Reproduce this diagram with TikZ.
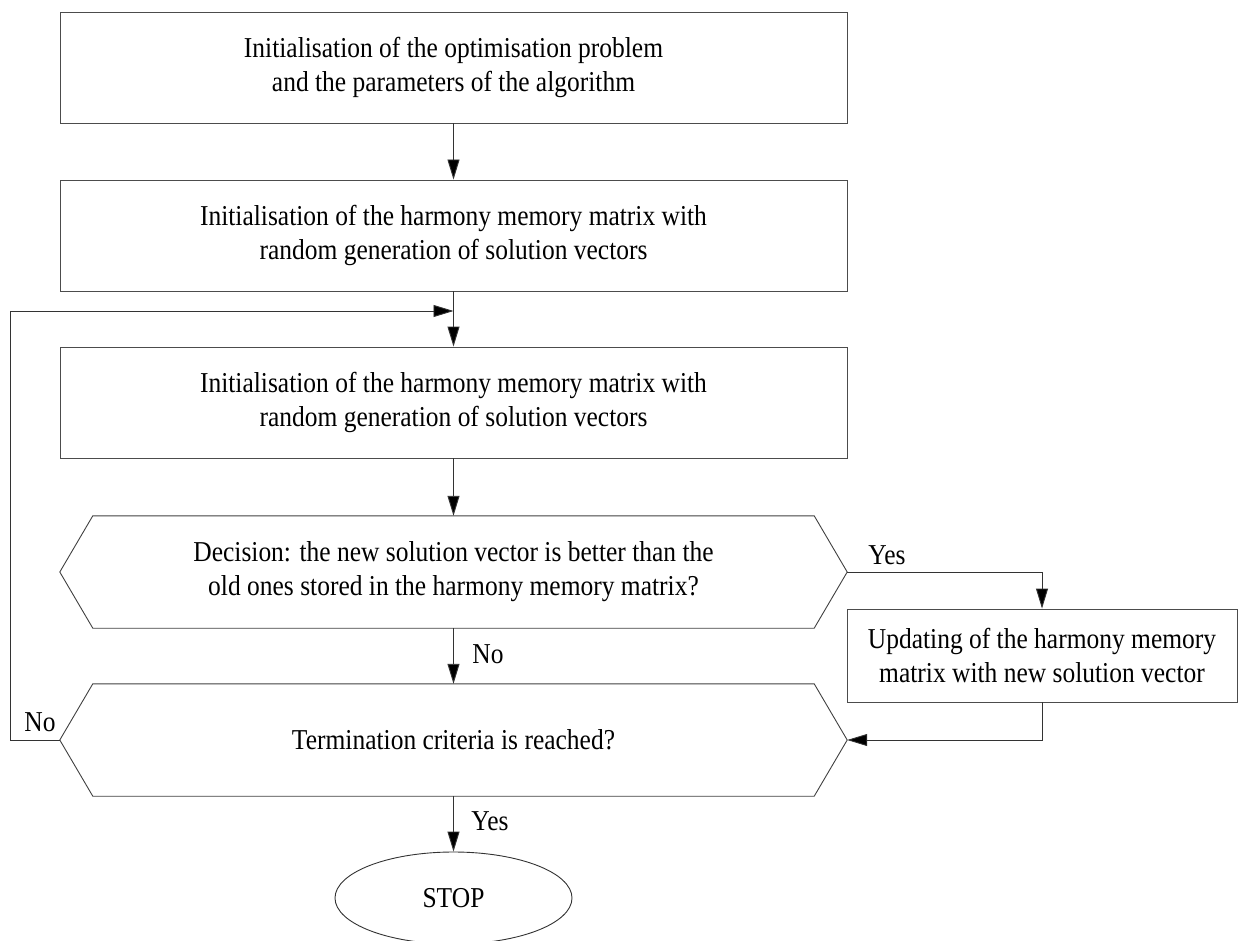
\documentclass[tikz,border=0pt]{standalone}
\usepackage{fontspec}
\setmainfont[FakeStretch=0.885]{Liberation Serif}
\usetikzlibrary{arrows.meta,calc,shapes.geometric}
\begin{document}
\begin{tikzpicture}[x=1pt,y=-1pt,
  every node/.style={font=\fontsize{28.8}{34}\selectfont},
  box/.style={draw=black!70,line width=0.9pt,minimum width=787pt,minimum height=111pt,inner sep=0pt,align=center},
  hexbox/.style={minimum width=787pt,minimum height=112pt,inner sep=0pt,align=center},
  hexline/.style={draw=black!75,line width=0.9pt},
  arr/.style={draw=black!80,line width=0.9pt,-{Triangle[length=20pt,width=12pt,fill=black]}},
  lbl/.style={inner sep=0pt}]
\useasboundingbox (0,0) rectangle (1238,941);
\clip (0,0) rectangle (1238,941);
\node[box] (b1) at (453.5,67.5) {Initialisation of the optimisation problem\\and the parameters of the algorithm};
\node[box] (b2) at (453.5,235.5) {Initialisation of the harmony memory matrix with\\random generation of solution vectors};
\node[box] (b3) at (453.5,402.5) {Initialisation of the harmony memory matrix with\\random generation of solution vectors};
\node[hexbox] (d1) at (453.5,572) {Decision: the new solution vector is better than the\\old ones stored in the harmony memory matrix?};
\node[hexbox] (d2) at (453.5,740) {Termination criteria is reached?};
\draw[hexline] (d1.west) -- ($(d1.north west)+(33,0)$) -- ($(d1.north east)+(-33,0)$) -- (d1.east) -- ($(d1.south east)+(-33,0)$) -- ($(d1.south west)+(33,0)$) -- cycle;
\draw[hexline] (d2.west) -- ($(d2.north west)+(33,0)$) -- ($(d2.north east)+(-33,0)$) -- (d2.east) -- ($(d2.south east)+(-33,0)$) -- ($(d2.south west)+(33,0)$) -- cycle;
\node[box,minimum width=390pt,minimum height=93pt] (b4) at (1042,655.5) {Updating of the harmony memory\\matrix with new solution vector};
\node[ellipse,draw=black!80,line width=0.9pt,minimum width=237pt,minimum height=92pt,inner sep=0pt] (stop) at (453.5,898) {STOP};
\coordinate (loopin) at (453.5,311);
\draw[arr] (b1.south) -- (b2.north);
\draw[arr] (b2.south) -- (b3.north);
\draw[arr] (b3.south) -- (d1.north);
\draw[arr] (d1.east) -| (b4.north);
\draw[arr] (d1.south) -- (d2.north);
\draw[arr] (b4.south) |- (d2.east);
\draw[arr] (d2.west) -- ++(-49,0) |- (loopin);
\draw[arr] (d2.south) -- (stop.north);
\node[lbl] (lyes1) at (887,555) {Yes};
\node[lbl] (lno1) at (488,654) {No};
\node[lbl] (lno2) at (40,722) {No};
\node[lbl] (lyes2) at (490,821) {Yes};
\end{tikzpicture}
\end{document}
